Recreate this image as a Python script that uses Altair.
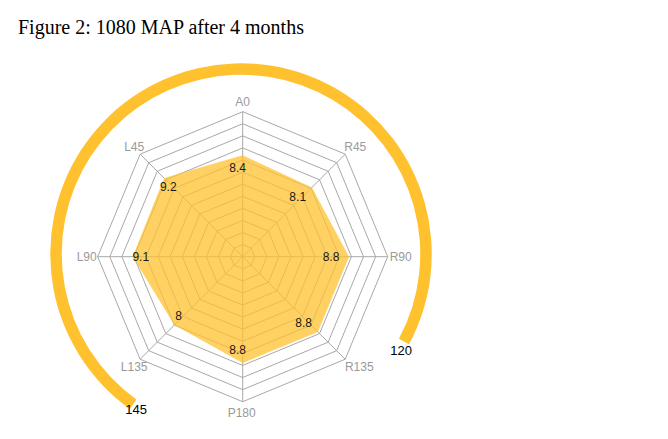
import math
import altair as alt
import pandas as pd

# ---------------- data ----------------
axis_names = ["A0", "R45", "R90", "R135", "P180", "L135", "L90", "L45"]
values = [8.4, 8.1, 8.8, 8.8, 8.8, 8.0, 9.1, 9.2]
ring_levels = [1, 2, 3, 4, 5, 6, 7, 8, 9, 10, 11, 12]
gauge_labels = ["145", "120"]
title_text = "Figure 2: 1080 MAP after 4 months"

# ---------------- layout / style ----------------
W, H = 652, 383
PAD_TOP = 40
CX, CY = 234.7, 208.7          # radar centre inside plot area (px)
R_MAX = 12
R_PX = 145.0
K = R_PX / R_MAX               # px per unit
x_dom = [-CX / K, (W - CX) / K]
y_dom = [-(H - CY) / K, CY / K]

GOLD = "#FFC12E"
GRID = "#a8a8a8"
SANS = "Liberation Sans"

ARC_R = 185.0
ARC_W = 11.5
ARC_START = 215.7   # deg, clockwise from top
ARC_END = 478.2
ARC_DX, ARC_DY = -1.7, -2.7

xs = alt.Scale(domain=x_dom, nice=False, zero=False)
ys = alt.Scale(domain=y_dom, nice=False, zero=False)


def X(f):
    return alt.X(f, type="quantitative", scale=xs, axis=None)


def Y(f):
    return alt.Y(f, type="quantitative", scale=ys, axis=None)


n = len(axis_names)

# grid rings
grid_rows = [{"ring": r, "k": j, "i": j % n} for r in ring_levels for j in range(n + 1)]
grid = (
    alt.Chart(pd.DataFrame(grid_rows))
    .transform_calculate(
        x=f"datum.ring * sin(datum.i * 2 * PI / {n})",
        y=f"datum.ring * cos(datum.i * 2 * PI / {n})",
    )
    .mark_line(color=GRID, strokeWidth=1)
    .encode(x=X("x"), y=Y("y"), order="k:Q", detail="ring:N")
)

# spokes
spoke_rows = [{"i": i, "r": r} for i in range(n) for r in (0, ring_levels[-1])]
spokes = (
    alt.Chart(pd.DataFrame(spoke_rows))
    .transform_calculate(
        x=f"datum.r * sin(datum.i * 2 * PI / {n})",
        y=f"datum.r * cos(datum.i * 2 * PI / {n})",
    )
    .mark_line(color=GRID, strokeWidth=1)
    .encode(x=X("x"), y=Y("y"), order="r:Q", detail="i:N")
)

# data polygon
poly_rows = [{"k": j, "i": j % n, "value": values[j % n]} for j in range(n + 1)]
poly = (
    alt.Chart(pd.DataFrame(poly_rows))
    .transform_calculate(
        x=f"datum.value * sin(datum.i * 2 * PI / {n})",
        y=f"datum.value * cos(datum.i * 2 * PI / {n})",
    )
    .mark_line(fill=GOLD, fillOpacity=0.75, stroke=GOLD, strokeOpacity=0.0, strokeWidth=0.5)
    .encode(x=X("x"), y=Y("y"), order="k:Q")
)

# value labels
INSET = 13.0
val_df = pd.DataFrame({"name": axis_names, "value": values, "i": list(range(n))})
val_labels = (
    alt.Chart(val_df)
    .transform_calculate(
        lbl="datum.value + ''",
        lr=f"datum.value - {INSET / K}",
    )
    .transform_calculate(
        x=f"datum.lr * sin(datum.i * 2 * PI / {n})",
        y=f"datum.lr * cos(datum.i * 2 * PI / {n})",
    )
    .mark_text(font=SANS, fontSize=12, color="#1a1a1a", align="center", baseline="middle", dx=-5)
    .encode(x=X("x"), y=Y("y"), text="lbl:N")
)

# axis labels (centre offsets from outer vertex, px)
label_off = {
    "A0": (0, -10),
    "R45": (10, -7),
    "R90": (13, 0),
    "R135": (14, 8),
    "P180": (-1, 11),
    "L135": (-6, 8),
    "L90": (-11, 0),
    "L45": (-6, -7),
}
ax_df = pd.DataFrame({"name": axis_names, "i": list(range(n))})
ax_layers = []
for nm in axis_names:
    dx, dy = label_off[nm]
    ax_layers.append(
        alt.Chart(ax_df)
        .transform_filter(alt.datum.name == nm)
        .transform_calculate(
            x=f"{R_MAX} * sin(datum.i * 2 * PI / {n})",
            y=f"{R_MAX} * cos(datum.i * 2 * PI / {n})",
        )
        .mark_text(font=SANS, fontSize=12, color="#9a9a9a", align="center", baseline="middle", dx=dx, dy=dy)
        .encode(x=X("x"), y=Y("y"), text="name:N")
    )

# gauge arc
g_df = pd.DataFrame({"label": gauge_labels, "k": list(range(len(gauge_labels)))})
arc = (
    alt.Chart(g_df)
    .transform_aggregate(cnt="count()")
    .mark_arc(
        color=GOLD,
        theta=math.radians(ARC_START),
        theta2=math.radians(ARC_END),
        radius=ARC_R - ARC_W / 2,
        radius2=ARC_R + ARC_W / 2,
        xOffset=ARC_DX,
        yOffset=ARC_DY,
    )
    .encode(
        x=alt.X(datum=0, type="quantitative", scale=xs, axis=None),
        y=alt.Y(datum=0, type="quantitative", scale=ys, axis=None),
    )
)

g_off = [(3, 6), (-3, 10)]
g_layers = []
for idx, lab in enumerate(gauge_labels):
    ang = ARC_START if idx == 0 else ARC_END
    dx, dy = g_off[idx]
    g_layers.append(
        alt.Chart(g_df)
        .transform_filter(alt.datum.k == idx)
        .transform_calculate(
            x=f"{ARC_R / K} * sin({math.radians(ang)})",
            y=f"{ARC_R / K} * cos({math.radians(ang)})",
        )
        .mark_text(font=SANS, fontSize=13, color="#000000", align="center", baseline="middle",
                   dx=dx + ARC_DX, dy=dy + ARC_DY)
        .encode(x=X("x"), y=Y("y"), text="label:N")
    )

chart = (
    alt.layer(arc, grid, spokes, poly, *ax_layers, val_labels, *g_layers)
    .properties(
        width=W,
        height=H,
        autosize=alt.AutoSizeParams(type="none"),
        padding={"top": PAD_TOP, "left": 0, "right": 0, "bottom": 0},
        title=alt.TitleParams(
            text=title_text,
            anchor="start",
            frame="group",
            dx=10,
            dy=22,
            offset=16,
            baseline="alphabetic",
            font="Liberation Serif",
            fontSize=20,
            fontWeight="normal",
            color="#000000",
        ),
    )
    .configure_view(strokeWidth=0)
)

chart.save("out.html", embed_options={"renderer": "svg", "actions": False})
